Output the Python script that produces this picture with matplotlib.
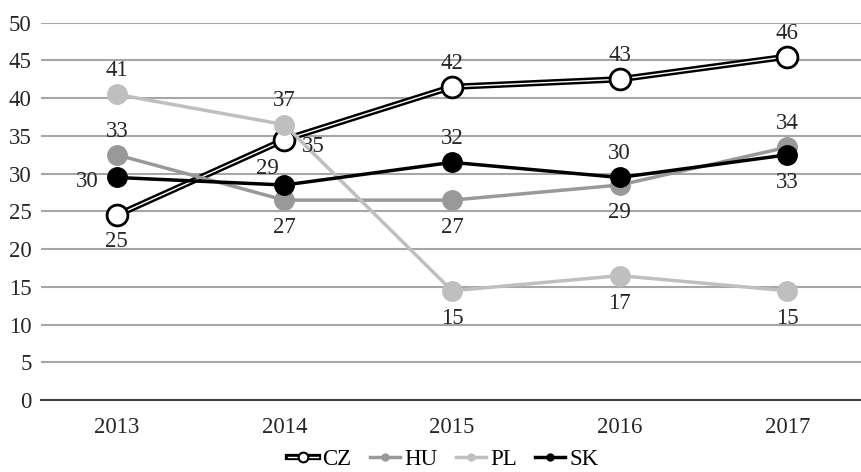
import matplotlib
matplotlib.use("Agg")
import matplotlib.pyplot as plt
from matplotlib.lines import Line2D
import numpy as np

years = ["2013", "2014", "2015", "2016", "2017"]
cz = [24.5, 34.5, 41.5, 42.5, 45.5]
hu = [32.5, 26.5, 26.5, 28.5, 33.5]
pl = [40.5, 36.5, 14.5, 16.5, 14.5]
sk = [29.5, 28.5, 31.5, 29.5, 32.5]

cz_lab = ["25", "35", "42", "43", "46"]
hu_lab = ["33", "27", "27", "29", "34"]
pl_lab = ["41", "37", "15", "17", "15"]
sk_lab = ["30", "29", "32", "30", "33"]

# label placement per point: (dx, dy) in points
cz_pos = [(0, -19), (21, -5), (0, 17), (0, 17), (0, 17)]
hu_pos = [(0, 17), (0, -20), (0, -20), (0, -20), (0, 17)]
pl_pos = [(0, 17), (0, 17), (0, -20), (0, -20), (0, -20)]
sk_pos = [(-21, -3), (-12, 12), (0, 17), (0, 17), (0, -20)]

plt.rcParams['font.family'] = ['Liberation Serif', 'DejaVu Serif']
plt.rcParams['font.size'] = 16.5

fig = plt.figure(figsize=(8.61, 4.72), dpi=100)
ax = fig.add_axes([0.048, 0.152, 0.952, 0.8])

x = np.arange(len(years))

ax.plot(x, cz, color="black", lw=4.5, zorder=3)
# white inner line for the double line look
ax.plot(x, cz, color="white", lw=1, zorder=3.1)
ax.plot(x, cz, color="none", marker="o", ms=15, mfc="white", mec="black",
        mew=2, zorder=3.2)
ax.plot(x, hu, color="#999999", lw=2.5, marker="o", ms=14, zorder=4)
ax.plot(x, pl, color="#bfbfbf", lw=2.5, marker="o", ms=14, zorder=5)
ax.plot(x, sk, color="black", lw=2.5, marker="o", ms=14, zorder=6)

for vals, labs, pos in [(cz, cz_lab, cz_pos), (hu, hu_lab, hu_pos),
                        (pl, pl_lab, pl_pos), (sk, sk_lab, sk_pos)]:
    for i in range(len(vals)):
        ax.annotate(labs[i], (x[i], vals[i]), xytext=pos[i],
                    textcoords="offset points", ha="center", va="center",
                    color="#262626", zorder=10)

ax.set_xlim(-0.45, 4.44)
ax.set_ylim(0, 50)
ax.set_yticks(range(0, 51, 5))
ax.set_xticks(x)
ax.set_xticklabels(years)
ax.yaxis.grid(True, color="#a6a6a6", lw=1.5)
ax.set_axisbelow(True)
for s in ["top", "right", "left"]:
    ax.spines[s].set_visible(False)
ax.spines["bottom"].set_color("#404040")
ax.spines["bottom"].set_linewidth(1.5)
ax.spines["bottom"].set_zorder(2)
ax.tick_params(length=0, colors="#262626", pad=7)
ax.tick_params(axis="x", pad=12)

# legend handles
h_cz = (Line2D([], [], color="black", lw=4.5),
        Line2D([], [], color="white", lw=1),
        Line2D([], [], color="none", marker="o", ms=7, mfc="white",
               mec="black", mew=1.5))
h_hu = Line2D([], [], color="#999999", lw=2.5, marker="o", ms=5)
h_pl = Line2D([], [], color="#bfbfbf", lw=2.5, marker="o", ms=5)
h_sk = Line2D([], [], color="black", lw=2.5, marker="o", ms=5)
fig.legend([h_cz, h_hu, h_pl, h_sk], ["CZ", "HU", "PL", "SK"],
           loc="lower center", bbox_to_anchor=(0.515, -0.04), ncol=4,
           frameon=False, handlelength=1.3, handletextpad=0.2,
           columnspacing=0.8)

fig.savefig("out.png", dpi=100)
